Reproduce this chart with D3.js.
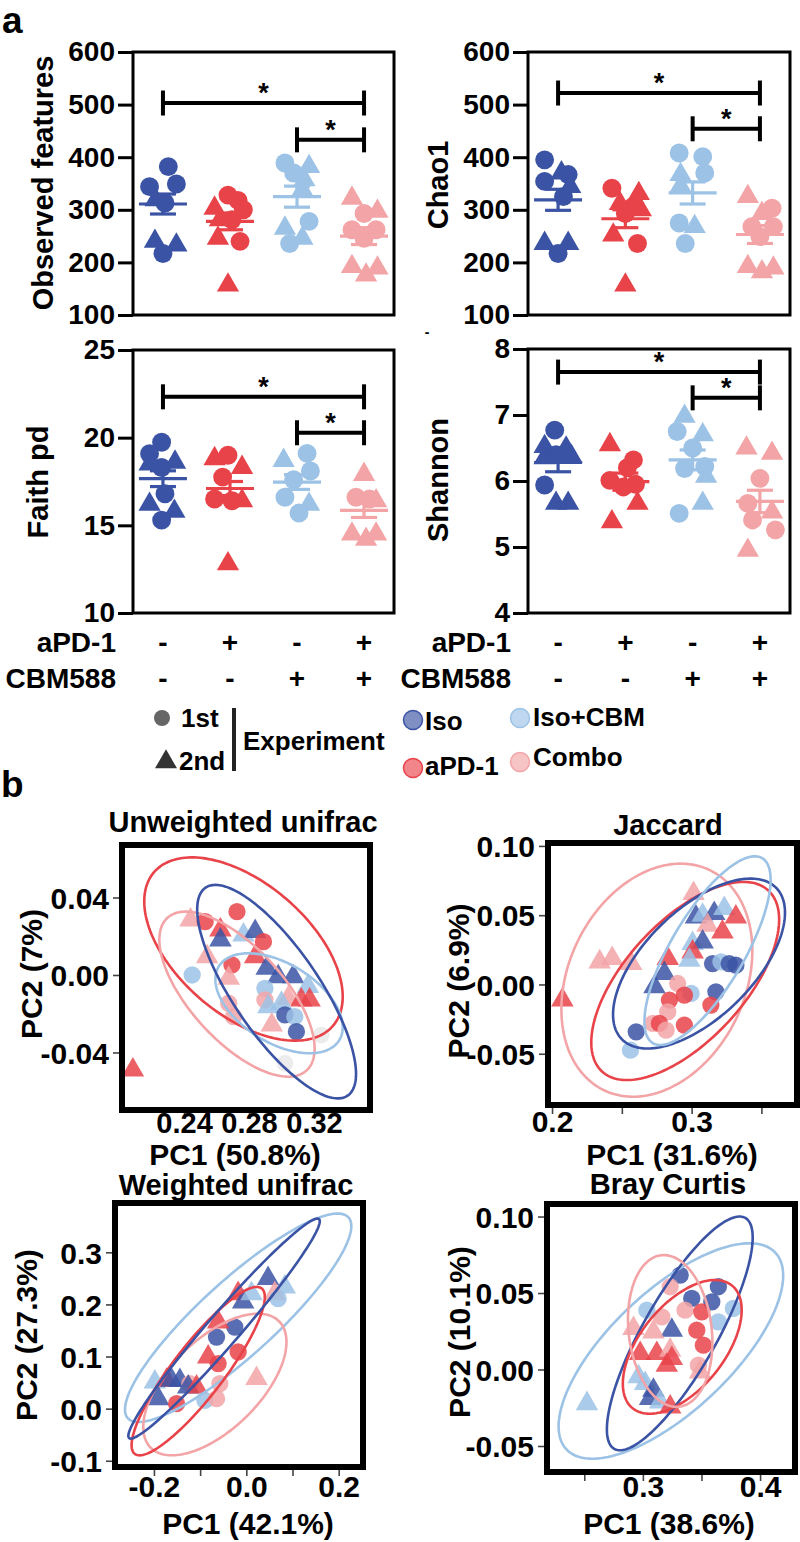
<!DOCTYPE html>
<html><head><meta charset="utf-8">
<script src="https://cdn.jsdelivr.net/npm/d3@7"></script>
<style>
body{margin:0;background:#fff}
text{font-family:"Liberation Sans",Arial,Helvetica,sans-serif;font-weight:bold;fill:#000}
</style>
</head><body>
<svg id="c" width="800" height="1542" xmlns="http://www.w3.org/2000/svg"></svg>
<script>
// ---------------- DATA ----------------
const groups = ["Iso", "aPD-1", "Iso+CBM", "Combo"];
const groupColors = ["#3b53a4", "#e9434a", "#9cc2e6", "#f3a4a7"];
const aPD1Row = ["-", "+", "-", "+"];
const cbmRow = ["-", "-", "+", "+"];

// alpha diversity points per group: [value, shape (c=1st exp, t=2nd exp), jitter (fraction of group step)]
const observedPoints = [
  [[382,"c",.08],[349,"c",.2],[344,"c",-.2],[319,"t",-.11],[313,"c",.03],[240,"t",-.12],[233,"t",.2],[217,"c",0]],
  [[328,"c",-.03],[318,"c",.12],[300,"c",.2],[303,"t",-.23],[281,"t",-.15],[281,"c",.03],[246,"t",-.18],[240,"c",.15],[157,"t",-.03]],
  [[389,"c",-.18],[370,"c",-.05],[382,"t",.18],[357,"t",.11],[338,"t",.08],[278,"c",.18],[265,"t",-.18],[246,"t",.08],[236,"c",-.11]],
  [[322,"t",-.18],[297,"t",.2],[293,"c",0],[262,"c",-.18],[262,"c",.18],[246,"c",0],[192,"t",-.18],[189,"t",.2],[176,"t",.03]]
];
const observedMean = [311, 278, 325, 250];
const observedSem = [19, 16, 20, 16];
const observedTicks = [100, 200, 300, 400, 500, 600];
const observedSig = [[0, 3, 503], [2, 3, 433]];

const chaoPoints = [
  [[395,"c",-.2],[367,"c",.15],[354,"c",-.2],[370,"t",.05],[344,"t",.18],[325,"c",.08],[236,"t",-.2],[236,"t",.15],[217,"c",0]],
  [[341,"c",-.2],[331,"t",.2],[312,"t",-.08],[306,"c",.11],[300,"t",.23],[293,"c",0],[252,"t",-.18],[236,"c",.18],[157,"t",0]],
  [[408,"c",-.2],[401,"c",.15],[370,"c",.18],[367,"t",-.18],[345,"t",-.18],[275,"c",-.2],[268,"t",.03],[236,"c",-.11]],
  [[325,"t",-.18],[303,"c",.18],[293,"t",.03],[268,"c",-.12],[268,"c",.2],[249,"c",0],[192,"t",-.18],[189,"t",.2],[182,"t",.03]]
];
const chaoMean = [319, 283, 332, 253];
const chaoSem = [20, 17, 21, 17];
const chaoTicks = [100, 200, 300, 400, 500, 600];
const chaoSig = [[0, 3, 522], [2, 3, 454]];

const faithPoints = [
  [[19.74,"c",-.02],[19.08,"c",-.2],[18.6,"t",.18],[18.5,"t",-.2],[18.3,"c",-.02],[16.8,"c",.03],[16.2,"t",-.2],[15.8,"t",.17],[15.3,"c",-.02]],
  [[19.0,"c",-.03],[18.8,"t",-.23],[18.3,"t",.18],[17.75,"c",-.11],[16.5,"c",-.23],[16.4,"c",.03],[16.4,"t",.18],[12.8,"t",-.03]],
  [[19.1,"c",.15],[18.7,"t",-.2],[18.1,"c",.2],[17.6,"c",-.05],[16.6,"c",-.18],[16.2,"t",.18],[15.7,"c",.03]],
  [[17.9,"t",0],[16.6,"c",-.12],[16.5,"c",.08],[16.4,"t",.18],[14.5,"t",-.18],[14.5,"t",.18],[14.2,"t",.03]]
];
const faithMean = [17.66, 17.1, 17.47, 15.85];
const faithSem = [0.45, 0.4, 0.42, 0.4];
const faithTicks = [10, 15, 20, 25];
const faithSig = [[0, 3, 22.33], [2, 3, 20.28]];

const shannonPoints = [
  [[6.77,"c",-.05],[6.52,"t",-.2],[6.5,"t",.12],[6.4,"c",-.03],[6.37,"t",.2],[6.35,"t",-.2],[5.94,"c",-.2],[5.66,"t",-.03],[5.66,"t",.15]],
  [[6.55,"t",-.23],[6.32,"c",.12],[6.2,"c",.03],[6.01,"c",-.23],[5.91,"c",-.03],[5.95,"c",.15],[5.66,"t",.18],[5.38,"t",-.2]],
  [[6.98,"t",-.12],[6.75,"c",-.23],[6.7,"t",.15],[6.5,"c",0],[6.22,"c",.18],[6.19,"c",-.12],[6.07,"t",.2],[5.66,"t",.15],[5.51,"c",-.2]],
  [[6.5,"t",-.2],[6.42,"t",.18],[6.04,"c",0],[5.66,"c",-.18],[5.53,"t",.18],[5.41,"c",-.11],[5.26,"c",.23],[4.95,"t",-.18]]
];
const shannonMean = [6.28, 5.99, 6.32, 5.69];
const shannonSem = [0.14, 0.13, 0.15, 0.17];
const shannonTicks = [4, 5, 6, 7, 8];
const shannonSig = [[0, 3, 7.65], [2, 3, 7.26]];

// PCoA points: [PC1, PC2, group index, shape]
const unweightedPoints = [
  [0.244,0.0284,3,"t"],[0.253,0.0275,1,"c"],[0.2726,0.0327,1,"c"],[0.2624,0.0232,1,"t"],
  [0.2624,0.018,0,"t"],[0.2766,0.0206,2,"t"],[0.2838,0.0224,0,"t"],[0.2889,0.0172,1,"c"],
  [0.2838,0.0094,1,"t"],[0.2542,0.0094,3,"t"],[0.245,0.0,2,"c"],[0.2695,0.0052,1,"c"],
  [0.2675,-0.0017,3,"t"],[0.2909,0.0035,0,"t"],[0.298,-0.0009,0,"t"],[0.3072,-0.0009,0,"t"],
  [0.3163,-0.006,2,"t"],[0.2898,-0.0069,2,"c"],[0.2898,-0.0129,3,"c"],[0.3041,-0.012,3,"t"],
  [0.3122,-0.0129,1,"t"],[0.3173,-0.0129,1,"t"],[0.2919,-0.0164,2,"t"],[0.30,-0.0146,2,"t"],
  [0.2675,-0.0146,3,"c"],[0.2705,-0.0215,3,"c"],[0.3021,-0.0206,0,"c"],[0.3082,-0.0215,2,"c"],
  [0.294,-0.0258,3,"t"],[0.3092,-0.0293,0,"c"],[0.2085,-0.049,1,"t"]
];
const unweightedFaint = [[0.3245,-0.031],[0.3021,-0.0456]];
// ellipses: [group, centre PC1, centre PC2, half-width PC1, half-height PC2, correlation]
const unweightedEllipses = [
  [1,0.2766,0.0134,0.0611,0.0473,-0.52],
  [3,0.2726,-0.0099,0.0478,0.0426,-0.66],
  [2,0.2985,-0.0146,0.0392,0.0258,-0.48],
  [0,0.297,-0.0086,0.0489,0.0551,-0.77]
];
const unweightedXTicks = [0.24, 0.28, 0.32];
const unweightedYTicks = [-0.04, 0, 0.04];

const jaccardPoints = [
  [0.2074,-0.0113,1,"t"],[0.2341,0.0163,3,"t"],[0.2431,0.0187,3,"t"],[0.2567,0.0151,3,"t"],
  [0.3014,0.0656,3,"t"],[0.3031,0.0487,0,"t"],[0.3079,0.05,2,"t"],[0.3162,0.0512,0,"t"],
  [0.3234,0.0548,2,"t"],[0.3317,0.0487,1,"t"],[0.3114,0.0428,3,"t"],[0.3221,0.0379,1,"t"],
  [0.3007,0.0296,2,"t"],[0.3079,0.0307,0,"t"],[0.3007,0.0235,1,"t"],[0.2829,0.0187,1,"t"],
  [0.2984,0.0175,2,"t"],[0.2805,0.0079,0,"t"],[0.2734,-0.0017,0,"t"],[0.29,0.0007,3,"c"],
  [0.2996,-0.0065,2,"c"],[0.2948,-0.0077,1,"c"],[0.2841,-0.0113,1,"c"],[0.315,0.0151,0,"c"],
  [0.321,0.0163,2,"c"],[0.3269,0.0151,0,"c"],[0.3317,0.0139,0,"c"],[0.3174,-0.0053,0,"c"],
  [0.3138,-0.0149,1,"c"],[0.2829,-0.0198,3,"c"],[0.2722,-0.0281,3,"c"],[0.2769,-0.0281,1,"c"],
  [0.2817,-0.033,3,"c"],[0.2948,-0.0293,1,"c"],[0.2603,-0.0342,0,"c"],[0.2562,-0.0474,2,"c"]
];
const jaccardEllipses = [
  [3,0.2751,0.0031,0.0684,0.0841,0.25],
  [1,0.2954,0.0025,0.0673,0.0715,0.62],
  [0,0.3053,0.0151,0.0616,0.0613,0.6],
  [2,0.3114,0.0244,0.0452,0.0681,0.75]
];
const jaccardXTicks = [0.2, 0.25, 0.3, 0.35];
const jaccardXLabels = ["0.2", "", "0.3", ""];
const jaccardYTicks = [-0.05, 0, 0.05, 0.10];

const weightedPoints = [
  [-0.198,0.051,2,"t"],[-0.1907,0.0192,0,"t"],[-0.1726,0.0543,1,"t"],[-0.1617,0.0543,0,"t"],
  [-0.1438,0.054,0,"t"],[-0.151,0.0096,1,"c"],[-0.1222,0.048,3,"c"],[-0.1258,0.0415,0,"t"],
  [-0.1077,0.0415,1,"t"],[-0.0897,0.016,2,"c"],[-0.0644,0.0192,3,"c"],[-0.0573,0.048,3,"c"],
  [-0.061,0.0864,1,"c"],[-0.0826,0.099,1,"t"],[-0.0177,0.1087,1,"c"],[-0.0645,0.1374,0,"c"],
  [-0.0249,0.1566,0,"c"],[-0.061,0.1662,1,"t"],[0.022,0.0576,3,"t"],[-0.0177,0.2207,1,"t"],
  [-0.0069,0.2046,0,"t"],[0.0112,0.2207,2,"t"],[0.0471,0.2495,0,"t"],[0.0832,0.2334,2,"t"],
  [0.0616,0.2207,3,"t"],[0.0688,0.2111,2,"c"]
];
const weightedEllipses = [
  [2,-0.0177,0.1743,0.245,0.2,0.88],
  [3,-0.0681,0.0463,0.155,0.1359,0.6],
  [1,-0.1042,0.072,0.1442,0.1616,0.88],
  [0,-0.0482,0.1536,0.2072,0.2111,0.975]
];
const weightedXTicks = [-0.2, -0.1, 0, 0.1, 0.2];
const weightedXLabels = ["-0.2", "", "0.0", "", "0.2"];
const weightedYTicks = [-0.1, 0, 0.1, 0.2, 0.3];

const brayPoints = [
  [0.2523,-0.0223,2,"t"],[0.3318,0.0617,0,"c"],[0.3233,0.0541,3,"c"],[0.3644,0.0541,0,"c"],
  [0.3417,0.0465,0,"c"],[0.3588,0.0442,0,"c"],[0.3772,0.0399,2,"c"],[0.3034,0.0388,2,"c"],
  [0.336,0.0388,3,"c"],[0.3502,0.0377,1,"c"],[0.3644,0.0312,2,"c"],[0.3162,0.0344,3,"c"],
  [0.346,0.0257,1,"c"],[0.3247,0.0257,0,"t"],[0.292,0.0268,3,"t"],[0.309,0.0246,3,"t"],
  [0.3516,0.0159,1,"c"],[0.2977,0.0105,1,"t"],[0.3119,0.0105,1,"t"],[0.3233,0.0126,3,"t"],
  [0.3247,0.0072,1,"t"],[0.3204,0.0028,1,"t"],[0.3474,0.0028,3,"c"],[0.3488,-0.0016,3,"t"],
  [0.2963,-0.0048,2,"t"],[0.302,-0.0092,2,"t"],[0.309,-0.0135,0,"t"],[0.3062,-0.019,0,"t"],
  [0.3147,-0.0212,2,"t"],[0.3233,-0.0245,1,"t"]
];
const brayEllipses = [
  [2,0.3239,0.0121,0.0958,0.0704,0.7],
  [0,0.3315,0.0236,0.0622,0.0764,0.82],
  [1,0.3336,0.0148,0.0507,0.0437,0.55],
  [3,0.3233,0.0252,0.036,0.0496,-0.15]
];
const brayXTicks = [0.25, 0.3, 0.35, 0.4];
const brayXLabels = ["", "0.3", "", "0.4"];
const brayYTicks = [-0.05, 0, 0.05, 0.10];

// ---------------- DRAWING ----------------
const svg = d3.select("#c");
const FONT = '"Liberation Sans",Arial,sans-serif';

function marker(g, shape, px, py, color, circleArea, triArea, opacity) {
  if (shape === "c") {
    g.append("circle").attr("cx", px).attr("cy", py).attr("r", Math.sqrt(circleArea / Math.PI))
      .attr("fill", color).attr("fill-opacity", opacity);
  } else {
    g.append("path").attr("d", d3.symbol(d3.symbolTriangle, triArea)())
      .attr("transform", `translate(${px},${py})`).attr("fill", color).attr("fill-opacity", opacity);
  }
}

function alphaPanel(cfg) {
  const g = svg.append("g");
  const x = d3.scalePoint().domain(d3.range(4)).range([cfg.left, cfg.right]).padding(0.447);
  const y = d3.scaleLinear().domain(d3.extent(cfg.ticks)).range([cfg.bottom, cfg.top]);
  const step = x.step();
  cfg.points.forEach((grp, gi) => {
    grp.forEach(([v, s, j]) => marker(g, s, x(gi) + j * step, y(v), groupColors[gi], 280, 215, 1));
  });
  // mean and SEM
  cfg.mean.forEach((m, gi) => {
    const cx = x(gi), c = groupColors[gi];
    const lg = g.append("g").attr("stroke", c).attr("stroke-width", 3.2);
    lg.append("line").attr("x1", cx - 24).attr("x2", cx + 24).attr("y1", y(m)).attr("y2", y(m));
    lg.append("line").attr("x1", cx).attr("x2", cx).attr("y1", y(m - cfg.sem[gi])).attr("y2", y(m + cfg.sem[gi]));
    [m - cfg.sem[gi], m + cfg.sem[gi]].forEach(v =>
      lg.append("line").attr("x1", cx - 13).attr("x2", cx + 13).attr("y1", y(v)).attr("y2", y(v)));
  });
  // frame
  g.append("rect").attr("x", cfg.left).attr("y", cfg.top).attr("width", cfg.right - cfg.left)
    .attr("height", cfg.bottom - cfg.top).attr("fill", "none").attr("stroke", "#000").attr("stroke-width", 3);
  // axis
  const ax = g.append("g").attr("transform", `translate(${cfg.left},0)`)
    .call(d3.axisLeft(y).tickValues(cfg.ticks).tickSize(15).tickPadding(3).tickFormat(d3.format("d")));
  ax.select(".domain").remove();
  ax.selectAll(".tick line").attr("stroke", "#000").attr("stroke-width", 3);
  ax.selectAll(".tick text").attr("font-size", 28).attr("font-weight", "bold")
    .attr("font-family", FONT).attr("fill", "#000");
  // y label
  g.append("text").attr("transform", `translate(${cfg.labelX},${cfg.labelY}) rotate(-90)`)
    .attr("text-anchor", "middle").attr("font-size", 29).text(cfg.label);
  // significance bars
  cfg.sig.forEach(([a, b, v]) => {
    const yy = y(v);
    const sg = g.append("g").attr("stroke", "#000").attr("stroke-width", 4);
    sg.append("line").attr("x1", x(a)).attr("x2", x(b)).attr("y1", yy).attr("y2", yy);
    [a, b].forEach(k => sg.append("line").attr("x1", x(k)).attr("x2", x(k)).attr("y1", yy - 12.5).attr("y2", yy + 12.5));
    g.append("text").attr("x", (x(a) + x(b)) / 2).attr("y", yy - 1).attr("text-anchor", "middle")
      .attr("font-size", 27).attr("font-weight", "normal").text("*");
  });
  // treatment rows
  if (cfg.rows) {
    [[aPD1Row, "aPD-1", 652], [cbmRow, "CBM588", 688]].forEach(([row, name, by]) => {
      g.append("text").attr("x", cfg.rowLabelX).attr("y", by).attr("text-anchor", "end")
        .attr("font-size", 28).text(name);
      row.forEach((s, gi) => g.append("text").attr("x", x(gi)).attr("y", by)
        .attr("text-anchor", "middle").attr("font-size", 28).text(s));
    });
  }
}

alphaPanel({left:133,right:394,top:52,bottom:315,points:observedPoints,mean:observedMean,sem:observedSem,
  ticks:observedTicks,sig:observedSig,label:"Observed features",labelX:53,labelY:183});
alphaPanel({left:528,right:790,top:52,bottom:315,points:chaoPoints,mean:chaoMean,sem:chaoSem,
  ticks:chaoTicks,sig:chaoSig,label:"Chao1",labelX:448,labelY:185});
alphaPanel({left:133,right:394,top:350,bottom:613,points:faithPoints,mean:faithMean,sem:faithSem,
  ticks:faithTicks,sig:faithSig,label:"Faith pd",labelX:48,labelY:482,rows:true,rowLabelX:116});
alphaPanel({left:528,right:790,top:349,bottom:613,points:shannonPoints,mean:shannonMean,sem:shannonSem,
  ticks:shannonTicks,sig:shannonSig,label:"Shannon",labelX:448,labelY:480,rows:true,rowLabelX:511});

svg.append("text").attr("x", 427).attr("y", 337).attr("text-anchor", "middle")
  .attr("font-size", 14).attr("font-weight", "normal").text("-");

// panel letters
svg.append("text").attr("x", 2).attr("y", 33).attr("font-size", 37).text("a");
svg.append("text").attr("x", 1).attr("y", 797).attr("font-size", 37).text("b");

// legend
const lg = svg.append("g");
lg.append("circle").attr("cx", 162).attr("cy", 718).attr("r", 8).attr("fill", "#666");
lg.append("text").attr("x", 181).attr("y", 727).attr("font-size", 26).text("1st");
lg.append("path").attr("d", d3.symbol(d3.symbolTriangle, 210)()).attr("transform", "translate(166,762)").attr("fill", "#333");
lg.append("text").attr("x", 179).attr("y", 770).attr("font-size", 26).text("2nd");
lg.append("line").attr("x1", 234).attr("x2", 234).attr("y1", 708).attr("y2", 771).attr("stroke", "#222").attr("stroke-width", 4);
lg.append("text").attr("x", 243).attr("y", 750).attr("font-size", 26).text("Experiment");
const legendPos = [[413, 720, 425, 730], [413, 768, 425, 775], [520, 718, 533, 726], [520, 762, 533, 766]];
groups.forEach((name, gi) => {
  const [cx, cy, tx, ty] = legendPos[gi];
  lg.append("circle").attr("cx", cx).attr("cy", cy).attr("r", 9.5).attr("fill", groupColors[gi])
    .attr("fill-opacity", 0.65).attr("stroke", groupColors[gi]).attr("stroke-width", 1.5);
  lg.append("text").attr("x", tx).attr("y", ty).attr("font-size", 26).text(name);
});

// PCoA panels
function ellipsePath(x, y, e) {
  const [gi, cx, cy, hx, hy, r] = e;
  const s = Math.sqrt(1 - r * r);
  const pts = d3.range(0, 2 * Math.PI, Math.PI / 90).map(t =>
    [x(cx + hx * Math.cos(t)), y(cy + hy * (r * Math.cos(t) + s * Math.sin(t)))]);
  return d3.line().curve(d3.curveLinearClosed)(pts);
}

function pcoaPanel(cfg) {
  const g = svg.append("g");
  const x = d3.scaleLinear().domain(cfg.xDomain).range([cfg.left, cfg.right]);
  const y = d3.scaleLinear().domain(cfg.yDomain).range([cfg.bottom, cfg.top]);
  (cfg.faint || []).forEach(([a, b]) => marker(g, "c", x(a), y(b), "#ececec", 220, 0, 1));
  cfg.points.forEach(([a, b, gi, s]) => marker(g, s, x(a), y(b), groupColors[gi], 235, 220, 0.85));
  cfg.ellipses.forEach(e => g.append("path").attr("d", ellipsePath(x, y, e)).attr("fill", "none")
    .attr("stroke", groupColors[e[0]]).attr("stroke-width", 2.6));
  g.append("rect").attr("x", cfg.left).attr("y", cfg.top).attr("width", cfg.right - cfg.left)
    .attr("height", cfg.bottom - cfg.top).attr("fill", "none").attr("stroke", "#000").attr("stroke-width", 6);
  // x ticks
  const xa = g.append("g").attr("transform", `translate(0,${cfg.bottom + 3})`)
    .call(d3.axisBottom(x).tickValues(cfg.xTicks).tickSize(6).tickPadding(0)
      .tickFormat((d, i) => cfg.xLabels ? cfg.xLabels[i] : d3.format(".2f")(d)));
  xa.select(".domain").remove();
  xa.selectAll(".tick line").attr("stroke", "#444").attr("stroke-width", 1.6);
  xa.selectAll(".tick text").attr("y", cfg.xTickBase - cfg.bottom - 3).attr("dy", null)
    .attr("font-size", cfg.xTickSize || 30).attr("font-weight", "bold").attr("fill", "#000")
    .attr("font-family", FONT);
  // y ticks
  const ya = g.append("g").attr("transform", `translate(${cfg.left - 3},0)`)
    .call(d3.axisLeft(y).tickValues(cfg.yTicks).tickSize(6).tickPadding(4).tickFormat(d3.format(cfg.yFormat)));
  ya.select(".domain").remove();
  ya.selectAll(".tick line").attr("stroke", "#444").attr("stroke-width", 1.6);
  ya.selectAll(".tick text").attr("font-size", 30).attr("font-weight", "bold").attr("fill", "#000")
    .attr("font-family", FONT).attr("dy", "0.36em")
    .text(d => d3.format(cfg.yFormat)(d).replace("\u2212", "-"));
  // titles
  g.append("text").attr("x", cfg.titleX).attr("y", cfg.titleY).attr("text-anchor", "middle")
    .attr("font-size", 29).text(cfg.title);
  g.append("text").attr("x", cfg.xLabelX).attr("y", cfg.xLabelY).attr("text-anchor", "middle")
    .attr("font-size", 30).text(cfg.xLabel);
  g.append("text").attr("transform", `translate(${cfg.yLabelX},${cfg.yLabelY}) rotate(-90)`)
    .attr("text-anchor", "middle").attr("font-size", 30).text(cfg.yLabel);
}

pcoaPanel({left:122,right:370,top:845,bottom:1110,xDomain:[0.2018,0.3545],yDomain:[-0.0697,0.0671],
  points:unweightedPoints,faint:unweightedFaint,ellipses:unweightedEllipses,xTicks:unweightedXTicks,
  yTicks:unweightedYTicks,yFormat:".2f",xTickBase:1133,xTickSize:29,title:"Unweighted unifrac",titleX:243,titleY:832,
  xLabel:"PC1 (50.8%)",xLabelX:235,xLabelY:1165,yLabel:"PC2 (7%)",yLabelX:42,yLabelY:974});
pcoaPanel({left:548,right:797,top:843,bottom:1105,xDomain:[0.1971,0.3755],yDomain:[-0.087,0.1021],
  points:jaccardPoints,ellipses:jaccardEllipses,xTicks:jaccardXTicks,xLabels:jaccardXLabels,
  yTicks:jaccardYTicks,yFormat:".2f",xTickBase:1132,title:"Jaccard",titleX:668,titleY:835,
  xLabel:"PC1 (31.6%)",xLabelX:672,xLabelY:1165,yLabel:"PC2 (6.9%)",yLabelX:469,yLabelY:981});
pcoaPanel({left:115,right:363,top:1203,bottom:1467,xDomain:[-0.2843,0.2526],yDomain:[-0.112,0.3946],
  points:weightedPoints,ellipses:weightedEllipses,xTicks:weightedXTicks,xLabels:weightedXLabels,
  yTicks:weightedYTicks,yFormat:".1f",xTickBase:1497,title:"Weighted unifrac",titleX:236,titleY:1195,
  xLabel:"PC1 (42.1%)",xLabelX:248,xLabelY:1534,yLabel:"PC2 (27.3%)",yLabelX:37,yLabelY:1335});
pcoaPanel({left:547,right:795,top:1204,bottom:1472,xDomain:[0.2182,0.4298],yDomain:[-0.067,0.1082],
  points:brayPoints,ellipses:brayEllipses,xTicks:brayXTicks,xLabels:brayXLabels,
  yTicks:brayYTicks,yFormat:".2f",xTickBase:1497,title:"Bray Curtis",titleX:668,titleY:1194,
  xLabel:"PC1 (38.6%)",xLabelX:669,xLabelY:1534,yLabel:"PC2 (10.1%)",yLabelX:470,yLabelY:1332});
</script>
</body></html>
